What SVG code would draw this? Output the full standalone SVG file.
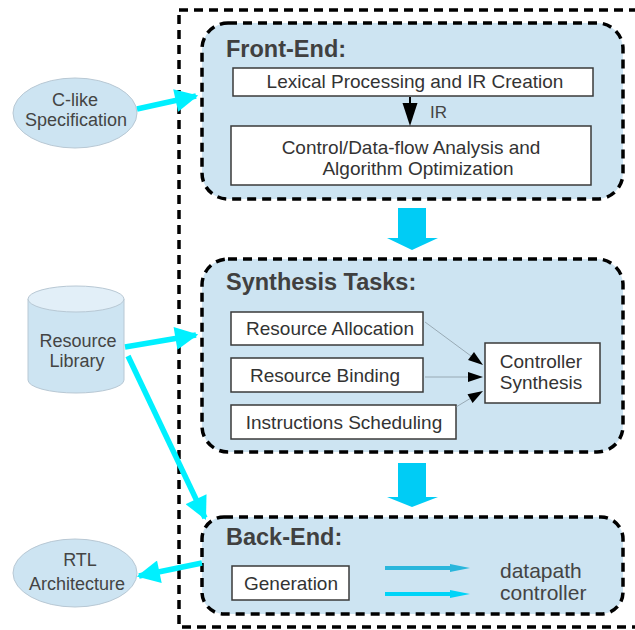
<svg xmlns="http://www.w3.org/2000/svg" width="635" height="630" viewBox="0 0 635 630">
  <defs>
    <style>
      .stage { fill: #cde4f2; stroke: #000; stroke-width: 3.5; stroke-dasharray: 9 6; }
      .outer { fill: none; stroke: #000; stroke-width: 3.5; stroke-dasharray: 9 6; }
      .box { fill: #fff; stroke: #3a3a3a; stroke-width: 1.5; }
      .title { font-family: "Liberation Sans", Arial, sans-serif; font-weight: bold; font-size: 23.5px; fill: #404040; }
      .lbl { font-family: "Liberation Sans", Arial, sans-serif; font-size: 19px; fill: #333; text-anchor: middle; }
      .ext { fill: #cde4f2; stroke: #b8c8d4; stroke-width: 1; }
      .extlbl { font-family: "Liberation Sans", Arial, sans-serif; font-size: 18px; fill: #444; text-anchor: middle; }
      .out { font-family: "Liberation Sans", Arial, sans-serif; font-size: 21px; fill: #444; }
      .flow { stroke: #00f0ff; stroke-width: 5.5; fill: none; }
      .thin { stroke: #8a9aa4; stroke-width: 0.8; fill: none; }
      .head { fill: #000; }
      .big { fill: #00ccf5; }
    </style>
    <marker id="cyanHead" viewBox="0 0 10 10" refX="9" refY="5" markerWidth="4.4" markerHeight="4.2" orient="auto" markerUnits="strokeWidth">
      <path d="M0,0 L10,5 L0,10 z" fill="#00f0ff"/>
    </marker>
  </defs>

  <!-- overall flow frame -->
  <rect class="outer" x="179" y="10" width="470" height="617"/>

  <!-- Front-End stage -->
  <g id="front-end">
    <rect class="stage" x="202" y="23" width="421" height="176" rx="26"/>
    <text class="title" x="226" y="57">Front-End:</text>
    <g id="lexical">
      <rect class="box" x="233" y="68" width="360" height="28"/>
      <text class="lbl" x="415" y="88">Lexical Processing and IR Creation</text>
    </g>
    <g id="dataflow">
      <rect class="box" x="231" y="126" width="360" height="59"/>
      <text class="lbl" x="411" y="154">Control/Data-flow Analysis and</text>
      <text class="lbl" x="418" y="175">Algorithm Optimization</text>
    </g>
  </g>

  <!-- Synthesis stage -->
  <g id="synthesis">
    <rect class="stage" x="202" y="259" width="421" height="193" rx="26"/>
    <text class="title" x="226" y="290">Synthesis Tasks:</text>
    <g id="allocation">
      <rect class="box" x="231" y="312" width="192" height="33"/>
      <text class="lbl" x="330" y="335">Resource Allocation</text>
    </g>
    <g id="binding">
      <rect class="box" x="231" y="358" width="192" height="34"/>
      <text class="lbl" x="325" y="382">Resource Binding</text>
    </g>
    <g id="scheduling">
      <rect class="box" x="231" y="405" width="225" height="34"/>
      <text class="lbl" x="344" y="429">Instructions Scheduling</text>
    </g>
    <g id="controller">
      <rect class="box" x="485" y="343" width="115" height="60"/>
      <text class="lbl" x="541" y="368">Controller</text>
      <text class="lbl" x="541" y="389">Synthesis</text>
    </g>
  </g>

  <!-- Back-End stage -->
  <g id="back-end">
    <rect class="stage" x="202" y="517" width="421" height="97" rx="22"/>
    <text class="title" x="226" y="545">Back-End:</text>
    <g id="generation">
      <rect class="box" x="232" y="566" width="117" height="34"/>
      <text class="lbl" x="291" y="590">Generation</text>
    </g>
    <text class="out" x="500" y="578">datapath</text>
    <text class="out" x="500" y="600">controller</text>
  </g>

  <!-- external inputs and outputs -->
  <g id="spec">
    <ellipse class="ext" cx="75" cy="113" rx="62" ry="35"/>
    <text class="extlbl" x="75" y="106">C-like</text>
    <text class="extlbl" x="76" y="126">Specification</text>
  </g>
  <g id="library">
    <path class="ext" d="M28,299 L28,380 A48,13 0 0 0 124,380 L124,299"/>
    <ellipse cx="76" cy="299" rx="48" ry="13" fill="#e2eff8" stroke="#b8c8d4" stroke-width="1"/>
    <text class="extlbl" x="78" y="347">Resource</text>
    <text class="extlbl" x="77" y="367">Library</text>
  </g>
  <g id="rtl">
    <ellipse class="ext" cx="75" cy="573" rx="62" ry="34"/>
    <text class="extlbl" x="80" y="566">RTL</text>
    <text class="extlbl" x="77" y="590">Architecture</text>
  </g>

  <!-- connectors -->
  <g id="connectors">
    <line class="flow" x1="137" y1="109" x2="196" y2="96" marker-end="url(#cyanHead)"/>
    <line class="flow" x1="125" y1="347" x2="196" y2="335" marker-end="url(#cyanHead)"/>
    <line class="flow" x1="128" y1="356" x2="205" y2="518" marker-end="url(#cyanHead)"/>
    <line class="flow" x1="202" y1="563" x2="139" y2="576" marker-end="url(#cyanHead)"/>

    <!-- IR hand-off -->
    <line x1="410" y1="97" x2="410" y2="104" stroke="#000" stroke-width="2"/>
    <polygon class="head" points="402.5,103 417.5,103 410,126"/>
    <text class="extlbl" x="430" y="118" style="text-anchor:start;font-size:17px">IR</text>

    <!-- task results into controller synthesis -->
    <line class="thin" x1="425" y1="322" x2="471" y2="356"/>
    <polygon class="head" points="483,365 468,360 474,352"/>
    <line class="thin" x1="425" y1="377" x2="469" y2="377"/>
    <polygon class="head" points="483,377 468,372 468,382"/>
    <line class="thin" x1="456" y1="407" x2="470" y2="398.6"/>
    <polygon class="head" points="483,391 472.6,403 467.5,394.3"/>

    <!-- stage-to-stage flow -->
    <path class="big" d="M398,208 L426,208 L426,238 L438,238 L412,250 L387,238 L398,238 z"/>
    <path class="big" d="M398,463 L426,463 L426,497 L438,497 L412,507 L387,497 L398,497 z"/>

    <path d="M385,566 L450,566 L450,564 L470,568 L450,572 L450,570 L385,570 z" fill="#2ab6dc"/>
    <path d="M385,592 L450,592 L450,590 L470,594 L450,598 L450,596 L385,596 z" fill="#00d4f8"/>
  </g>
</svg>
